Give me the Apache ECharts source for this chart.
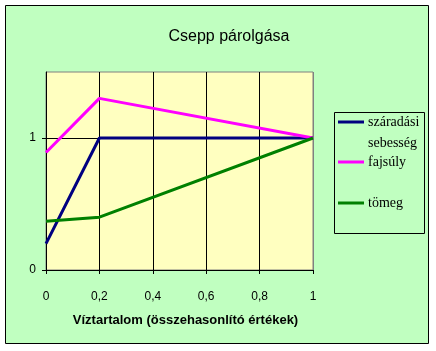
<!DOCTYPE html>
<html>
<head>
<meta charset="utf-8">
<script src="https://cdn.jsdelivr.net/npm/echarts@6/dist/echarts.min.js"></script>
<style>
html,body{margin:0;padding:0;background:#fff;}
#c{width:436px;height:351px;}
</style>
</head>
<body>
<div id="c"></div>
<script>
var titleText = 'Csepp párolgása';
var xAxisName = 'Víztartalom (összehasonlító értékek)';
var seriesNames = ['száradási sebesség', 'fajsúly', 'tömeg'];
var legendLabels = ['száradási\nsebesség', 'fajsúly', 'tömeg'];
var seriesColors = ['#000080', '#FF00FF', '#008000'];
var yTickValues = [0, 1];
var xSzaradasi = [0, 0.2, 1];
var ySzaradasi = [0.2, 1, 1];
var xFajsuly = [0, 0.2, 1];
var yFajsuly = [0.89, 1.3, 1];
var xTomeg = [0, 0.2, 1];
var yTomeg = [0.37, 0.4, 1];

function pairs(xs, ys){ return xs.map(function(x,i){return [x, ys[i]];}); }
var seriesData = [pairs(xSzaradasi, ySzaradasi), pairs(xFajsuly, yFajsuly), pairs(xTomeg, yTomeg)];

var chart = echarts.init(document.getElementById('c'), null, {renderer:'canvas'});
var legendTop = [122, 162, 203];
var graphics = [
  {type:'rect', shape:{x:5.5, y:5.5, width:423, height:338}, style:{fill:'#C0FFC0', stroke:'#000', lineWidth:1}, z:-10},
  {type:'rect', shape:{x:334.5, y:112.5, width:90, height:121}, style:{fill:'#C0FFC0', stroke:'#000', lineWidth:1}, z:5}
];
legendLabels.forEach(function(l, i){
  graphics.push({type:'line', shape:{x1:338, y1:legendTop[i], x2:364, y2:legendTop[i]}, style:{stroke:seriesColors[i], lineWidth:3}, z:6});
  graphics.push({type:'text', x:368, y:legendTop[i]-10, style:{text:l, fill:'#000', font:'14px "Liberation Serif", "Times New Roman", serif', lineHeight:21, verticalAlign:'top'}, z:6});
});

chart.setOption({
  animation:false,
  backgroundColor:'#fff',
  title:{text:titleText, left:224, top:24, textAlign:'center', textStyle:{fontFamily:'"Liberation Sans", Arial, sans-serif', fontSize:16, fontWeight:'normal', color:'#000'}},
  grid:{left:46, right:123, top:72, bottom:81, show:true, backgroundColor:'#FFFFC0', borderColor:'#808080', borderWidth:1},
  xAxis:{type:'value', min:0, max:1, interval:0.2,
    name:xAxisName, nameLocation:'middle', nameGap:44,
    nameTextStyle:{fontFamily:'"Liberation Sans", Arial, sans-serif', fontSize:13, fontWeight:'bold', color:'#000', padding:[0,0,0,12]},
    axisLine:{lineStyle:{color:'#000', width:1}},
    axisTick:{show:true, length:4, inside:false, lineStyle:{color:'#000'}},
    axisLabel:{margin:21, fontFamily:'"Liberation Sans", Arial, sans-serif', fontSize:12, color:'#000',
      formatter:function(v){ return String(+v.toFixed(1)).replace('.', ','); }},
    splitLine:{show:true, lineStyle:{color:['#000','#000','#000','#000','#000','#808080'], width:1}}
  },
  yAxis:{type:'value', min:0, max:1.5, interval:1,
    axisLine:{show:true, lineStyle:{color:'#000', width:1}},
    axisTick:{show:true, length:4, customValues:yTickValues, lineStyle:{color:'#000'}},
    axisLabel:{margin:10, customValues:yTickValues, fontFamily:'"Liberation Sans", Arial, sans-serif', fontSize:12, color:'#000'},
    splitLine:{show:true, lineStyle:{color:['#000','#000','#808080'], width:1}}
  },
  series: seriesNames.map(function(n, i){
    return {name:n, type:'line', data:seriesData[i], symbol:'none', lineStyle:{color:seriesColors[i], width:3}, itemStyle:{color:seriesColors[i]}, z:3+i};
  }),
  graphic: graphics
});
</script>
</body>
</html>
